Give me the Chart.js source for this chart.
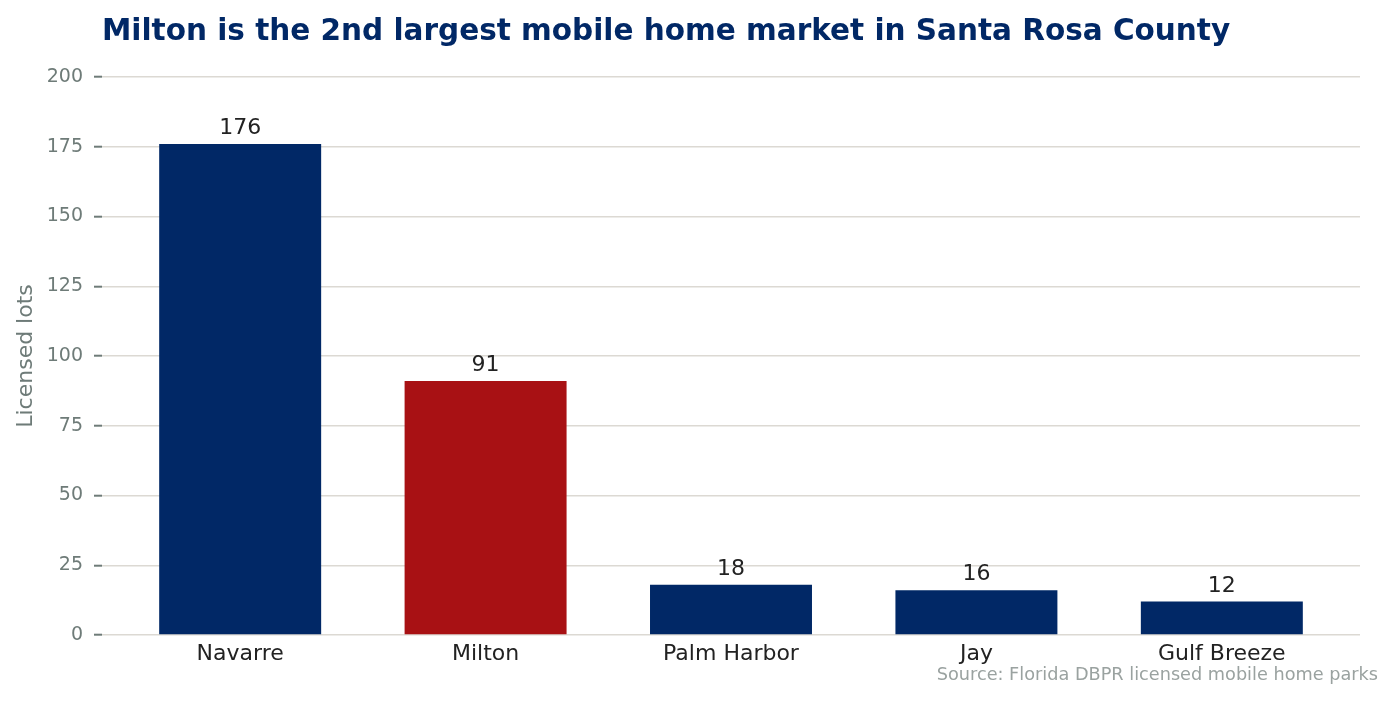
<!DOCTYPE html>
<html>
<head>
<meta charset="utf-8">
<script src="https://cdn.jsdelivr.net/npm/chart.js@4/dist/chart.umd.min.js"></script>
<style>
  html, body { margin: 0; padding: 0; background: #fff; }
  #wrap { width: 1395px; height: 701px; }
</style>
</head>
<body>
<div id="wrap"><canvas id="lotsChart"></canvas></div>
<script>
const categories = ['Navarre', 'Milton', 'Palm Harbor', 'Jay', 'Gulf Breeze'];
const lots = [176, 91, 18, 16, 12];
const highlight = 'Milton';
const yTicks = [0, 25, 50, 75, 100, 125, 150, 175, 200];

const NAVY = '#012866', RED = '#a81114';
const FONT = "'DejaVu Sans', sans-serif";

// bar value labels + source note
const labelPlugin = {
  id: 'barLabels',
  afterDatasetsDraw(chart) {
    const ctx = chart.ctx;
    const meta = chart.getDatasetMeta(0);
    ctx.save();
    ctx.font = '22px ' + FONT;
    ctx.fillStyle = '#222222';
    ctx.textAlign = 'center';
    ctx.textBaseline = 'alphabetic';
    meta.data.forEach((bar, i) => {
      ctx.fillText(String(lots[i]), bar.x, bar.y - 10);
    });
    ctx.font = '17.7px ' + FONT;
    ctx.fillStyle = '#9aa2a0';
    ctx.textAlign = 'right';
    ctx.textBaseline = 'middle';
    ctx.fillText('Source: Florida DBPR licensed mobile home parks', chart.width - 17, 675);
    ctx.restore();
  }
};

new Chart(document.getElementById('lotsChart').getContext('2d'), {
  type: 'bar',
  data: {
    datasets: [{
      data: lots.map((v, i) => ({ x: i, y: v })),
      backgroundColor: categories.map(c => c === highlight ? RED : NAVY),
      borderWidth: 0,
      barPercentage: 0.66,
      categoryPercentage: 1
    }]
  },
  options: {
    responsive: true,
    maintainAspectRatio: false,
    animation: false,
    layout: { padding: { top: 5, left: 10, right: 35, bottom: 36 } },
    plugins: {
      legend: { display: false },
      tooltip: { enabled: false },
      title: {
        display: true,
        text: 'Milton is the 2nd largest mobile home market in Santa Rosa County',
        align: 'start',
        fullSize: false,
        color: NAVY,
        font: { family: FONT, size: 29.5, weight: 'bold' },
        padding: { top: 10, bottom: 26.6 }
      }
    },
    scales: {
      x: {
        type: 'linear',
        offset: false,
        min: -0.563,
        max: 4.563,
        grid: { display: false, drawTicks: false },
        border: { display: false },
        afterFit: axis => { axis.height = 30; },
        ticks: {
          stepSize: 1,
          includeBounds: false,
          autoSkip: false,
          maxRotation: 0,
          padding: 6,
          color: '#222222',
          font: { family: FONT, size: 22 },
          callback: v => Number.isInteger(v) ? (categories[v] ?? '') : ''
        }
      },
      y: {
        min: 0,
        max: 200,
        border: { display: false },
        grid: { color: '#dcd9d3', lineWidth: 1.4, tickColor: '#6e7b78', tickLength: 8, tickWidth: 2 },
        afterBuildTicks: axis => { axis.ticks = yTicks.map(v => ({ value: v })); },
        afterFit: axis => { axis.width = 92; },
        ticks: {
          padding: 11,
          color: '#6e7b78',
          font: { family: FONT, size: 19 }
        },
        title: {
          display: true,
          text: 'Licensed lots',
          color: '#6e7b78',
          font: { family: FONT, size: 22 },
          padding: { top: 3, bottom: 0 }
        }
      }
    }
  },
  plugins: [labelPlugin]
});
</script>
</body>
</html>
